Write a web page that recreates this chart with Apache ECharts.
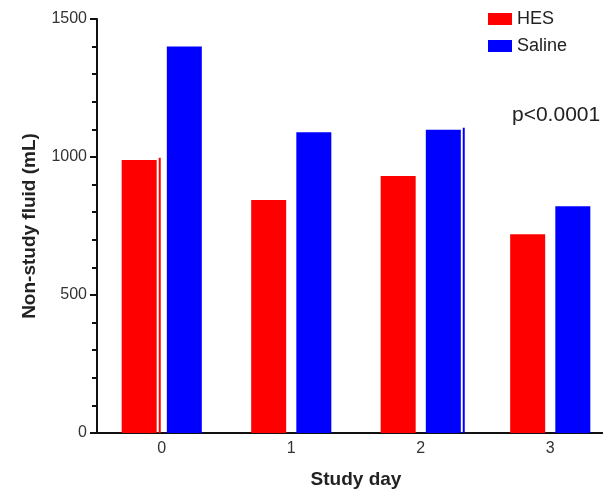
<!DOCTYPE html>
<html>
<head>
<meta charset="utf-8">
<script src="https://cdn.jsdelivr.net/npm/echarts@6/dist/echarts.min.js"></script>
<style>
html,body{margin:0;padding:0;background:#fff;}
#c{width:603px;height:491px;}
</style>
</head>
<body>
<div id="c"></div>
<script>
const categories = ['0', '1', '2', '3'];
const hesValues = [989, 844, 931, 720];
const salineValues = [1400, 1090, 1099, 822];
// thin upper marks (error-bar remnants) drawn next to some bars
const hesErr = [997, null, null, null];
const salineErr = [null, null, 1106, null];
const yTicks = [0, 500, 1000, 1500];

const FONT = 'Liberation Sans, Arial, sans-serif';
const chart = echarts.init(document.getElementById('c'), null, {renderer: 'canvas'});

function errRender(offset, color) {
  return function (params, api) {
    const v = api.value(1);
    if (v == null || isNaN(v)) return null;
    const top = api.coord([api.value(0), v]);
    const bot = api.coord([api.value(0), 0]);
    const x = top[0] + offset;
    return {
      type: 'line',
      shape: {x1: x, y1: top[1], x2: x, y2: bot[1]},
      style: {stroke: color, lineWidth: 2}
    };
  };
}

chart.setOption({
  animation: false,
  textStyle: {fontFamily: FONT},
  grid: {left: 97, top: 19, bottom: 58, right: -12, containLabel: false, outerBoundsMode: 'none'},
  legend: {
    orient: 'vertical',
    left: 483, top: 5,
    itemWidth: 24, itemHeight: 12, itemGap: 9,
    icon: 'rect',
    textStyle: {fontFamily: FONT, fontSize: 18, color: '#222'},
    data: ['HES', 'Saline']
  },
  graphic: [{
    type: 'text', left: 512, top: 105,
    style: {text: 'p<0.0001', font: '21px ' + FONT, fill: '#222'}
  }],
  xAxis: {
    type: 'category',
    data: categories,
    name: 'Study day',
    nameLocation: 'middle',
    nameGap: 37,
    nameTextStyle: {fontFamily: FONT, fontSize: 19, fontWeight: 'bold', color: '#222'},
    axisLine: {lineStyle: {color: '#111', width: 2}},
    axisTick: {alignWithLabel: true, length: 6, lineStyle: {color: '#111', width: 2}},
    axisLabel: {fontFamily: FONT, fontSize: 16, color: '#333', margin: 8}
  },
  yAxis: {
    type: 'value',
    min: 0, max: 1500, interval: 500,
    name: 'Non-study fluid (mL)',
    nameLocation: 'middle',
    nameGap: 58,
    nameTextStyle: {fontFamily: FONT, fontSize: 19, fontWeight: 'bold', color: '#222'},
    axisLine: {show: true, onZero: false, lineStyle: {color: '#111', width: 2}},
    axisTick: {show: true, length: 7, lineStyle: {color: '#111', width: 2}},
    minorTick: {show: true, splitNumber: 5, length: 5, lineStyle: {color: '#111', width: 2}},
    splitLine: {show: false},
    axisLabel: {fontFamily: FONT, fontSize: 16, color: '#333', margin: 10,
      formatter: v => yTicks.includes(v) ? String(v) : ''}
  },
  series: [
    {name: 'HES', type: 'bar', data: hesValues, barWidth: 35, barGap: '29%',
      itemStyle: {color: '#ff0000'}},
    {name: 'Saline', type: 'bar', data: salineValues, barWidth: 35,
      itemStyle: {color: '#0000ff'}},
    {name: 'hesErr', type: 'custom', data: hesErr.map((v, i) => [i, v]),
      renderItem: errRender(-2, '#ff0000'), silent: true, z: 3},
    {name: 'salineErr', type: 'custom', data: salineErr.map((v, i) => [i, v]),
      renderItem: errRender(43, '#0000ff'), silent: true, z: 3}
  ]
});
</script>
</body>
</html>
